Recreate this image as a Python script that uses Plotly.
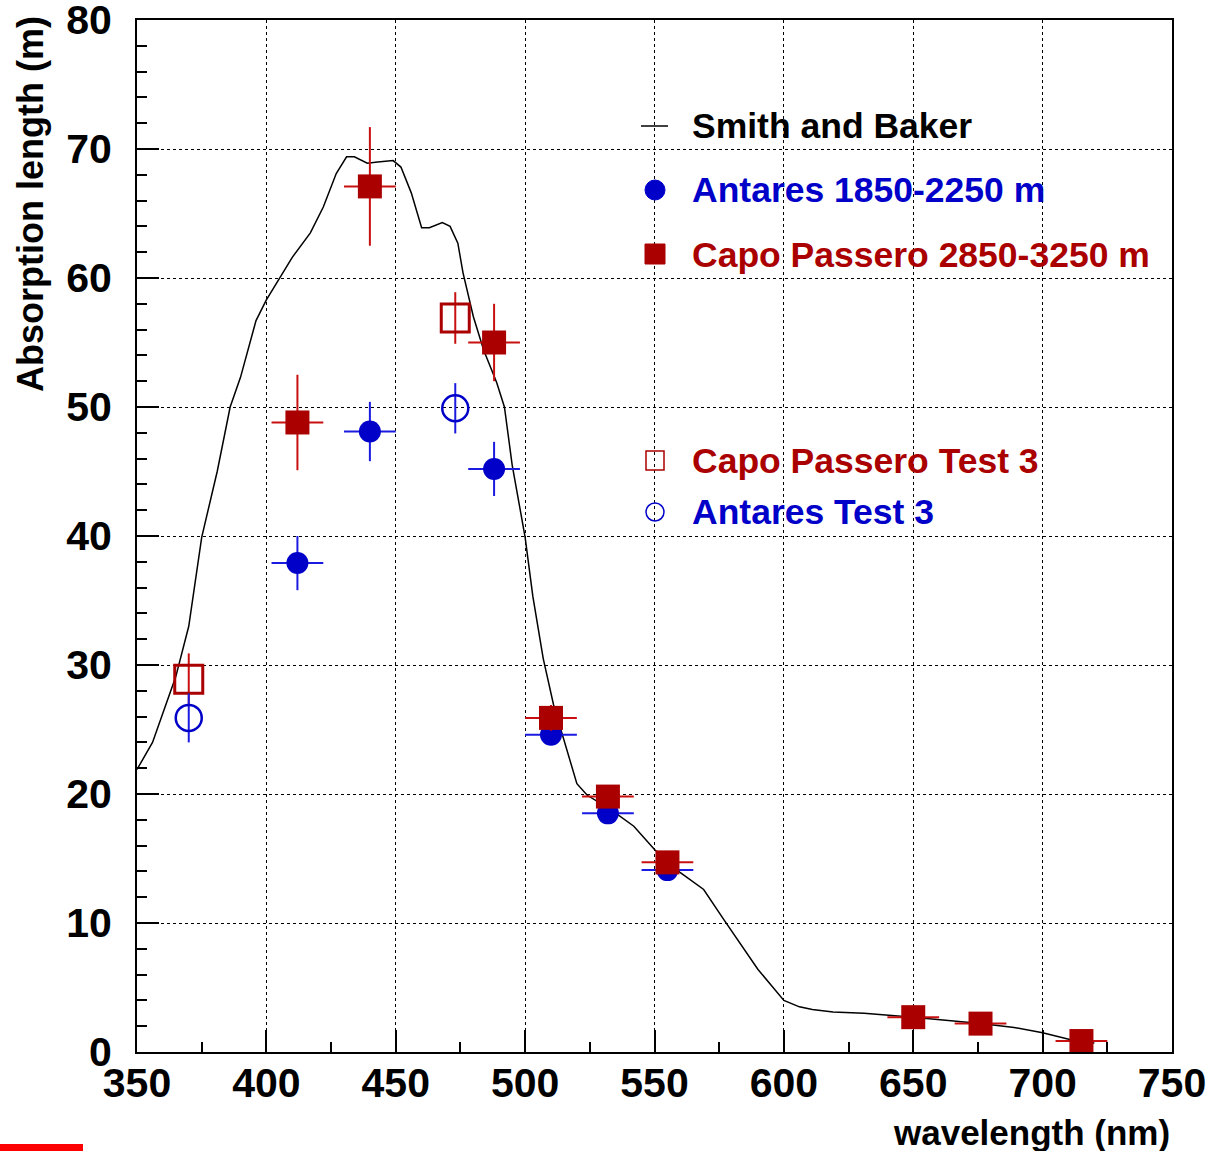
import plotly.graph_objects as go

# ---------------- data ----------------
sb_wl = [350, 356, 365, 370, 375, 381, 386, 390, 396, 400, 403, 410, 417, 422, 427, 431, 434,
         439, 443, 449, 452, 456, 460, 463, 468, 471, 474, 476, 480, 484, 489, 492, 495, 500,
         503, 507, 511, 515, 520, 524, 533, 542, 550, 560, 569, 577, 582, 590, 600, 606, 611,
         619, 631, 650, 676, 689, 700, 714, 720]
sb_abs = [21.9, 24.0, 29.1, 33.0, 39.9, 45.0, 50.0, 52.3, 56.7, 58.3, 59.3, 61.6, 63.5, 65.5,
          68.1, 69.4, 69.4, 68.9, 69.0, 69.1, 68.6, 66.6, 63.9, 63.9, 64.3, 64.0, 62.7, 60.4,
          57.0, 54.4, 51.9, 50.0, 45.5, 39.9, 35.3, 30.5, 26.9, 24.2, 20.8, 19.9, 18.8, 17.5,
          15.7, 13.9, 12.6, 10.2, 8.7, 6.4, 4.0, 3.5, 3.3, 3.1, 3.0, 2.7, 2.2, 1.9, 1.5, 0.8, 0.7]

ant_wl = [412, 440, 488, 510, 532, 555]
ant_abs = [37.9, 48.1, 45.2, 24.6, 18.5, 14.1]
ant_err = [2.1, 2.3, 2.1, 0.8, 0.6, 0.5]
ant_xerr = [10, 10, 10, 10, 10, 10]

cp_wl = [412, 440, 488, 510, 532, 555, 650, 676, 715]
cp_abs = [48.8, 67.1, 55.0, 25.9, 19.8, 14.7, 2.7, 2.2, 0.85]
cp_err = [3.7, 4.6, 3.0, 1.0, 0.8, 0.6, 0.5, 0.4, 0.3]
cp_xerr = [10, 10, 10, 10, 10, 10, 10, 10, 10]

cpt_wl = [370, 473]
cpt_abs = [28.9, 56.9]
cpt_err = [2.0, 2.0]

antt_wl = [370, 473]
antt_abs = [25.9, 49.9]
antt_err = [1.9, 1.95]

x_ticks = [350, 400, 450, 500, 550, 600, 650, 700, 750]
y_ticks = [0, 10, 20, 30, 40, 50, 60, 70, 80]

legend_labels = ["Smith and Baker", "Antares 1850-2250 m", "Capo Passero 2850-3250 m",
                 "Capo Passero Test 3", "Antares Test 3"]

BLUE = "#0000c8"
RED = "#aa0000"
BLUE_L = "#1a1ae0"
RED_L = "#c81010"
FONT = "Liberation Sans"

W, H = 1216, 1151
L, R, T, B = 137, 1172, 20, 1052  # plot area in pixels


def px(x):
    """page x pixel -> paper coordinate"""
    return (x - L) / (R - L)


def py(y):
    """page y pixel -> paper coordinate"""
    return (B - y) / (B - T)


fig = go.Figure()

fig.add_trace(go.Scatter(x=sb_wl, y=sb_abs, mode="lines",
                         line=dict(color="black", width=1.5), showlegend=False))

fig.add_trace(go.Scatter(
    x=ant_wl, y=ant_abs, mode="markers",
    marker=dict(symbol="circle", size=22, color=BLUE),
    error_y=dict(type="data", array=ant_err, color=BLUE_L, thickness=2, width=0),
    error_x=dict(type="data", array=ant_xerr, color=BLUE_L, thickness=2, width=0),
    showlegend=False))

fig.add_trace(go.Scatter(
    x=cp_wl, y=cp_abs, mode="markers",
    marker=dict(symbol="square", size=24, color=RED),
    error_y=dict(type="data", array=cp_err, color=RED_L, thickness=2, width=0),
    error_x=dict(type="data", array=cp_xerr, color=RED_L, thickness=2, width=0),
    showlegend=False))

fig.add_trace(go.Scatter(
    x=cpt_wl, y=cpt_abs, mode="markers",
    marker=dict(symbol="square-open", size=28, color=RED, line=dict(width=3, color=RED)),
    error_y=dict(type="data", array=cpt_err, color=RED_L, thickness=2, width=0),
    showlegend=False))

fig.add_trace(go.Scatter(
    x=antt_wl, y=antt_abs, mode="markers",
    marker=dict(symbol="circle-open", size=26, color=BLUE, line=dict(width=2.5, color=BLUE)),
    error_y=dict(type="data", array=antt_err, color=BLUE_L, thickness=2, width=0),
    showlegend=False))

axis_common = dict(
    showline=True, linecolor="black", linewidth=2, mirror=True,
    ticks="inside", tickcolor="black", tickwidth=1.5, ticklen=22,
    showgrid=True, gridcolor="black", gridwidth=1, griddash="3px,3px",
    zeroline=False, tickmode="array", ticklabeloverflow="allow", automargin=False,
    tickfont=dict(family=FONT, size=41, color="black", weight="bold"),
)

fig.update_xaxes(range=[350, 750], tickvals=x_ticks, ticktext=[str(v) for v in x_ticks],
                 ticklabelstandoff=-6,
                 minor=dict(dtick=25, tick0=350, ticks="inside", ticklen=10, tickcolor="black",
                            tickwidth=1.5, showgrid=False),
                 **axis_common)
fig.update_yaxes(range=[0, 80], tickvals=y_ticks, ticktext=[str(v) for v in y_ticks],
                 ticklabelstandoff=15,
                 minor=dict(dtick=2, tick0=0, ticks="inside", ticklen=10, tickcolor="black",
                            tickwidth=1.5, showgrid=False),
                 **axis_common)

annotations = []
# axis titles
annotations.append(dict(text="wavelength (nm)", xref="paper", yref="paper",
                        x=1.0, y=py(1132), xanchor="right", yanchor="middle",
                        showarrow=False,
                        font=dict(family=FONT, size=35, color="black", weight="bold")))
annotations.append(dict(text="Absorption length (m)", xref="paper", yref="paper",
                        x=px(30), y=py(14), xanchor="center", yanchor="top",
                        textangle=-90, showarrow=False,
                        font=dict(family=FONT, size=36, color="black", weight="bold")))

# legend
leg_y = [126, 190, 255, 461, 512]
leg_col = ["black", BLUE, RED, RED, BLUE]
for lab, yy, cc in zip(legend_labels, leg_y, leg_col):
    annotations.append(dict(text=lab, xref="paper", yref="paper", x=px(690), y=py(yy),
                            xanchor="left", yanchor="middle", showarrow=False,
                            font=dict(family=FONT, size=35.5, color=cc, weight="bold")))

shapes = [
    dict(type="line", xref="paper", yref="paper", x0=px(641), x1=px(668), y0=py(126), y1=py(126),
         line=dict(color="black", width=1.5)),
    dict(type="circle", xref="paper", yref="paper", x0=px(645), x1=px(665), y0=py(200), y1=py(180),
         fillcolor=BLUE, line=dict(color=BLUE, width=1)),
    dict(type="rect", xref="paper", yref="paper", x0=px(645), x1=px(665), y0=py(264), y1=py(244),
         fillcolor=RED, line=dict(color=RED, width=1)),
    dict(type="rect", xref="paper", yref="paper", x0=px(646), x1=px(664), y0=py(470), y1=py(451),
         fillcolor="rgba(0,0,0,0)", line=dict(color=RED, width=1.5)),
    dict(type="circle", xref="paper", yref="paper", x0=px(646), x1=px(664), y0=py(521), y1=py(503),
         fillcolor="rgba(0,0,0,0)", line=dict(color=BLUE, width=1.5)),
    dict(type="rect", xref="paper", yref="paper", x0=px(0), x1=px(83), y0=py(1151), y1=py(1144),
         fillcolor="#ff0000", line=dict(width=0)),
]

fig.update_layout(
    width=W, height=H,
    margin=dict(l=L, r=W - R, t=T, b=H - B, pad=0, autoexpand=False),
    paper_bgcolor="white", plot_bgcolor="white",
    annotations=annotations, shapes=shapes,
    showlegend=False,
)

fig.write_html("out.html",
               config={"displayModeBar": False},
               post_script="document.body.style.margin='0';document.body.style.overflow='hidden';")
